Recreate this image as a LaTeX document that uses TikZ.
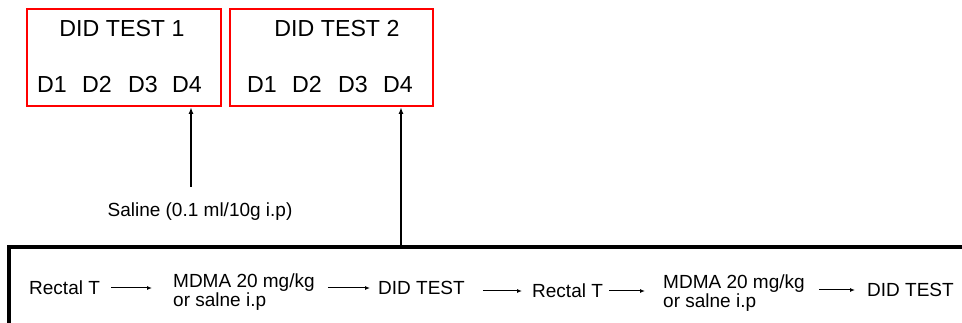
\documentclass[tikz,border=0pt]{standalone}
\usepackage{fontspec}
\setmainfont{Liberation Sans}
\usetikzlibrary{arrows.meta}

\tikzset{
  testbox/.style={draw=red, line width=2pt, inner sep=0pt},
  bigtext/.style={font=\fontsize{23.2}{24}\selectfont, inner sep=0pt, anchor=base},
  smalltext/.style={font=\fontsize{19}{19.5}\selectfont, inner sep=0pt, anchor=west, align=left},
  uparrow/.style={line width=1.5pt, -{Latex[length=7pt,width=5pt]}},
  steparrow/.style={line width=1pt, -{Latex[length=5pt,width=4pt]}},
  frame/.style={line width=3.5pt},
}

\begin{document}
\begin{tikzpicture}[x=1pt, y=-1pt]
  \useasboundingbox (0,0) rectangle (962,323);

  % the two test blocks
  \node[testbox, minimum width=194pt, minimum height=97pt] (box1) at (124,57.5) {};
  \node[testbox, minimum width=203pt, minimum height=97pt] (box2) at (331.5,57.5) {};

  \node[bigtext] (t1) at (122,36.3) {DID TEST 1};
  \node[bigtext] (t2) at (337,36.3) {DID TEST 2};

  \foreach \x/\n in {52/1, 97/2, 143/3, 187/4}
    \node[bigtext] (a\n) at (\x,92.3) {D\n};
  \foreach \x/\n in {262/1, 307/2, 353/3, 398/4}
    \node[bigtext] (b\n) at (\x,92.3) {D\n};

  % saline injection before test 1
  \node[smalltext, anchor=center] (saline) at (200,212) {Saline (0.1 ml/10g i.p)};
  \coordinate (s1) at (191,187);
  \draw[uparrow] (s1) -- (s1 |- box1.south);

  % protocol frame
  \coordinate (fr) at (962,247);
  \coordinate (fl) at (9,247);
  \coordinate (fb) at (9,323);
  \draw[frame] (fr) -- (fl) -- (fb);
  \coordinate (f2) at (401,247);
  \draw[uparrow] (f2) -- (f2 |- box2.south);

  % protocol steps
  \node[smalltext] (rt1) at (29,288) {Rectal T};
  \node[smalltext] (md1) at (173,292) {MDMA 20 mg/kg\\or salne i.p};
  \node[smalltext] (dd1) at (378,288) {DID TEST};
  \node[smalltext] (rt2) at (532,291) {Rectal T};
  \node[smalltext] (md2) at (663,293) {MDMA 20 mg/kg\\or salne i.p};
  \node[smalltext] (dd2) at (867,290) {DID TEST};

  \draw[steparrow, shorten <=11pt, shorten >=21pt] (rt1.east) -- (rt1.east -| md1.west);
  \draw[steparrow, shorten <=13pt, shorten >=8pt] (md1.east |- dd1.west) -- (dd1.west);
  \draw[steparrow, shorten <=18pt, shorten >=10pt] (dd1.east |- rt2.west) -- (rt2.west);
  \draw[steparrow, shorten <=6pt, shorten >=18pt] (rt2.east) -- (rt2.east -| md2.west);
  \draw[steparrow, shorten <=14pt, shorten >=12pt] (md2.east |- dd2.west) -- (dd2.west);
\end{tikzpicture}
\end{document}
